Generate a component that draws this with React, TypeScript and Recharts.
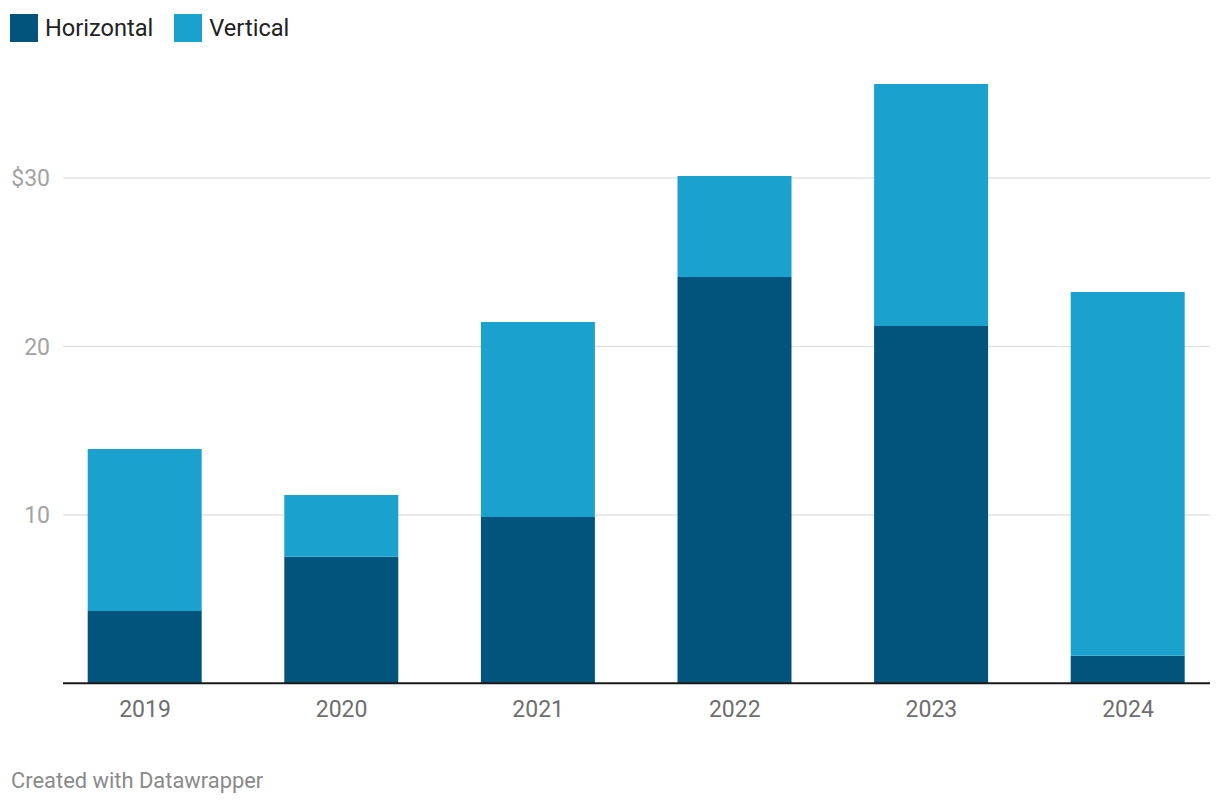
import React from "react";
import { BarChart, Bar, XAxis, YAxis, CartesianGrid } from "recharts";

const years = ["2019", "2020", "2021", "2022", "2023", "2024"];
const horizontal = [4.29, 7.52, 9.87, 24.12, 21.21, 1.64];
const vertical = [9.62, 3.66, 11.58, 6.0, 14.37, 21.59];
const yTicks = [10, 20, 30];

const seriesNames = ["Horizontal", "Vertical"];
const colors = ["#02547c", "#1aa1ce"];

const data = years.map((y, i) => ({ year: y, Horizontal: horizontal[i], Vertical: vertical[i] }));

const FONT = "Roboto, 'Noto Sans', sans-serif";

export default function App() {
  return (
    <div style={{ position: "absolute", left: 0, top: 0, width: 1220, height: 808, background: "#fff", fontFamily: FONT }}>
      <div style={{ position: "absolute", left: 10, top: 14, display: "flex", alignItems: "center", height: 28 }}>
        {seriesNames.map((n, i) => (
          <div key={n} style={{ display: "flex", alignItems: "center", marginRight: 21 }}>
            <div style={{ width: 28, height: 28, background: colors[i], marginRight: 7 }} />
            <span style={{ fontSize: 23.6, color: "#222", lineHeight: "28px" }}>{n}</span>
          </div>
        ))}
      </div>
      <BarChart
        width={1220}
        height={808}
        data={data}
        margin={{ top: 77, right: 10, bottom: 94.7, left: 0 }}
        style={{ position: "absolute", left: 0, top: 0 }}
      >
        <CartesianGrid horizontal vertical={false} horizontalValues={yTicks} stroke="#e3e3e3" strokeWidth={1.5} />
        <XAxis
          dataKey="year"
          padding={{ left: -16.3, right: -16.3 }}
          axisLine={{ stroke: "#1a1a1a", strokeWidth: 2 }}
          tickLine={false}
          tickSize={0}
          tickMargin={17}
          height={30}
          tick={{ fill: "#6e6e6e", fontSize: 23, fontFamily: FONT }}
        />
        <YAxis
          domain={[0, 36]}
          ticks={yTicks}
          width={63}
          axisLine={false}
          tickLine={false}
          tickSize={0}
          tickMargin={13}
          tickFormatter={(v: number) => (v === 30 ? "$30" : String(v))}
          tick={{ fill: "#a3a3a3", fontSize: 23, fontFamily: FONT }}
        />
        <Bar dataKey="Horizontal" stackId="a" fill={colors[0]} barSize={114} isAnimationActive={false} />
        <Bar dataKey="Vertical" stackId="a" fill={colors[1]} barSize={114} isAnimationActive={false} />
      </BarChart>
      <div style={{ position: "absolute", left: 11, top: 769, fontSize: 21.9, color: "#8a8a8a", lineHeight: "24px" }}>
        Created with Datawrapper
      </div>
    </div>
  );
}
